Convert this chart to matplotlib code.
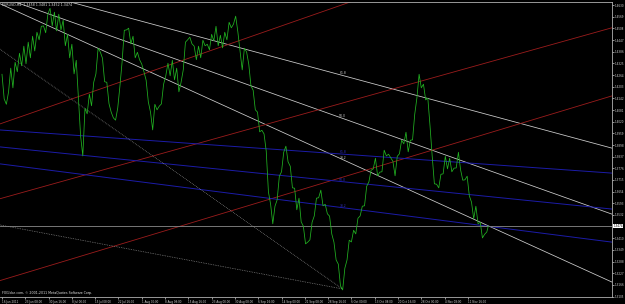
import numpy as np
import matplotlib
matplotlib.use("Agg")
import matplotlib.pyplot as plt

# EURUSD H4 close, read every 3rd bar off the chart (last value = current bar)
bars = list(range(0, 667, 3)) + [668]
close = [1.4268, 1.4139, 1.4111, 1.4176, 1.4300, 1.4197, 1.4331, 1.4281, 1.4378, 1.4312,
         1.4415, 1.4323, 1.4436, 1.4354, 1.4467, 1.4390, 1.4488, 1.4448, 1.4519, 1.4521,
         1.4485, 1.4582, 1.4613, 1.4521, 1.4593, 1.4495, 1.4582, 1.4500, 1.4551, 1.4417,
         1.4477, 1.4354, 1.4425, 1.4270, 1.4341, 1.4139, 1.3944, 1.3841, 1.4090, 1.4061,
         1.4164, 1.4103, 1.4226, 1.4270, 1.4404, 1.4385, 1.4352, 1.4229, 1.4226, 1.4114,
         1.4070, 1.4040, 1.4028, 1.4092, 1.4206, 1.4333, 1.4498, 1.4500, 1.4509, 1.4427,
         1.4467, 1.4354, 1.4383, 1.4344, 1.4321, 1.4281, 1.4237, 1.4124, 1.4070, 1.3977,
         1.4111, 1.4082, 1.4101, 1.4113, 1.4216, 1.4260, 1.4326, 1.4260, 1.4341, 1.4239,
         1.4300, 1.4176, 1.4226, 1.4291, 1.4436, 1.4448, 1.4462, 1.4427, 1.4415, 1.4344,
         1.4415, 1.4354, 1.4446, 1.4417, 1.4425, 1.4396, 1.4477, 1.4443, 1.4519, 1.4417,
         1.4472, 1.4406, 1.4488, 1.4448, 1.4540, 1.4511, 1.4530, 1.4572, 1.4490, 1.4389,
         1.4291, 1.4404, 1.4385, 1.4321, 1.4207, 1.4185, 1.4082, 1.4070, 1.3967, 1.3975,
         1.3956, 1.3866, 1.3653, 1.3588, 1.3486, 1.3578, 1.3611, 1.3735, 1.3758, 1.3860,
         1.3892, 1.3810, 1.3787, 1.3674, 1.3672, 1.3559, 1.3620, 1.3496, 1.3473, 1.3381,
         1.3390, 1.3402, 1.3494, 1.3527, 1.3620, 1.3622, 1.3662, 1.3580, 1.3588, 1.3538,
         1.3526, 1.3433, 1.3390, 1.3297, 1.3275, 1.3161, 1.3140, 1.3254, 1.3297, 1.3400,
         1.3391, 1.3452, 1.3433, 1.3515, 1.3527, 1.3578, 1.3580, 1.3682, 1.3705, 1.3766,
         1.3773, 1.3829, 1.3737, 1.3756, 1.3758, 1.3871, 1.3841, 1.3850, 1.3831, 1.3813,
         1.3737, 1.3839, 1.3852, 1.3923, 1.3904, 1.3965, 1.3862, 1.3923, 1.3925, 1.4059,
         1.4145, 1.4268, 1.4197, 1.4216, 1.4134, 1.4143, 1.3998, 1.3839, 1.3695, 1.3693,
         1.3674, 1.3745, 1.3747, 1.3839, 1.3773, 1.3829, 1.3758, 1.3777, 1.3778, 1.3860,
         1.3768, 1.3714, 1.3716, 1.3735, 1.3632, 1.3599, 1.3512, 1.3578, 1.3486, 1.3494,
         1.3412, 1.3431, 1.3443, 1.3474]

# time labels every 32 H4 bars
date_labels = ["16 Jun 2011", "23 Jun 08:00", "30 Jun 16:00", "8 Jul 00:00", "15 Jul 08:00",
               "22 Jul 16:00", "1 Aug 00:00", "8 Aug 08:00", "15 Aug 16:00", "23 Aug 00:00",
               "30 Aug 08:00", "6 Sep 16:00", "14 Sep 00:00", "21 Sep 08:00", "28 Sep 16:00",
               "6 Oct 00:00", "13 Oct 08:00", "20 Oct 16:00", "28 Oct 00:00", "4 Nov 08:00", "11 Nov 16:00"]
price_top = 1.4630
price_step = 0.0061
n_price_ticks = 26
bid = 1.3474

# drawn objects: two anchor points each (bar, price)
white_fan = [((272, 1.4463), (822, 1.3898)),
             ((409, 1.4117), (822, 1.3558)),
             ((409, 1.3924), (838, 1.3181))]
white_fan_lbl = ["61.8", "50.0", "38.2"]
red_fan = [((0, 1.4012), (249, 1.4342)),
           ((0, 1.3620), (409, 1.4055)),
           ((0, 1.3192), (409, 1.3662))]
blue_fan = [((0, 1.3976), (838, 1.3751)),
            ((0, 1.3887), (838, 1.3563)),
            ((0, 1.3798), (838, 1.3390))]
blue_fan_lbl = ["61.8", "50.0", "38.2"]
dotted = [((-3, 1.4400), (468, 1.3145)),
          ((-3, 1.3480), (468, 1.3145))]

fig = plt.figure(figsize=(6.25, 3.04), dpi=100, facecolor="black")
ax = fig.add_axes([0, 1 - 297 / 304, 612 / 625, 295 / 304])
ax.set_facecolor("black")
ax.set_xlim(-2.75, 838)
ax.set_ylim(1.3103, 1.4646)

for a, b in white_fan:
    ax.axline(a, b, color="#d0d0d0", lw=0.55)
for a, b in red_fan:
    ax.axline(a, b, color="#9a1c1c", lw=0.6)
for a, b in blue_fan:
    ax.axline(a, b, color="#1c1ca8", lw=0.7)
for a, b in dotted:
    ax.plot([a[0], b[0]], [a[1], b[1]], color="#a0a0a0", lw=0.5, ls=(0, (1, 1.5)))

ax.axhline(bid, color="#8a8a8a", lw=0.6)
ax.plot(bars, close, color="#22b422", lw=0.55)

# fan level labels
for (a, b), t in zip(white_fan, white_fan_lbl):
    k = (b[1] - a[1]) / (b[0] - a[0])
    ax.text(468, a[1] + k * (468 - a[0]), t, color="#d0d0d0", fontsize=2.2, ha="center", va="bottom")
for (a, b), t in zip(blue_fan, blue_fan_lbl):
    k = (b[1] - a[1]) / (b[0] - a[0])
    ax.text(468, a[1] + k * (468 - a[0]), t, color="#3030c0", fontsize=2.2, ha="center", va="bottom")

yt = [price_top - i * price_step for i in range(n_price_ticks) if abs(price_top - i * price_step - bid) > 0.003]
ax.yaxis.tick_right()
ax.set_yticks(yt)
ax.set_yticklabels(["%.4f" % v for v in yt])
ax.set_xticks([32 * i for i in range(len(date_labels))])
ax.set_xticklabels(date_labels, ha="left")
ax.tick_params(colors="#d0d0d0", labelsize=2.0, length=1.5, width=0.5, pad=0.6)
for s in ax.spines.values():
    s.set_color("#b0b0b0")
    s.set_linewidth(0.6)
ax.spines["left"].set_visible(False)

ax.annotate("%.4f" % bid, xy=(1, bid), xycoords=("axes fraction", "data"), xytext=(1.0, 0),
            textcoords="offset points", fontsize=2.0, color="black", va="center",
            bbox=dict(boxstyle="square,pad=0.15", fc="white", ec="none"), annotation_clip=False)

ax.text(0.004, 0.995, "EURUSD,H4  1.3458 1.3481 1.3452 1.3474", transform=ax.transAxes,
        fontsize=2.3, color="#e0e0e0", va="top")
ax.text(0.004, 0.008, "FXGlobe.com, \u00a9 2001-2011 MetaQuotes Software Corp.", transform=ax.transAxes,
        fontsize=2.3, color="#e0e0e0", va="bottom")

fig.savefig("out.png", dpi=100, facecolor="black")
